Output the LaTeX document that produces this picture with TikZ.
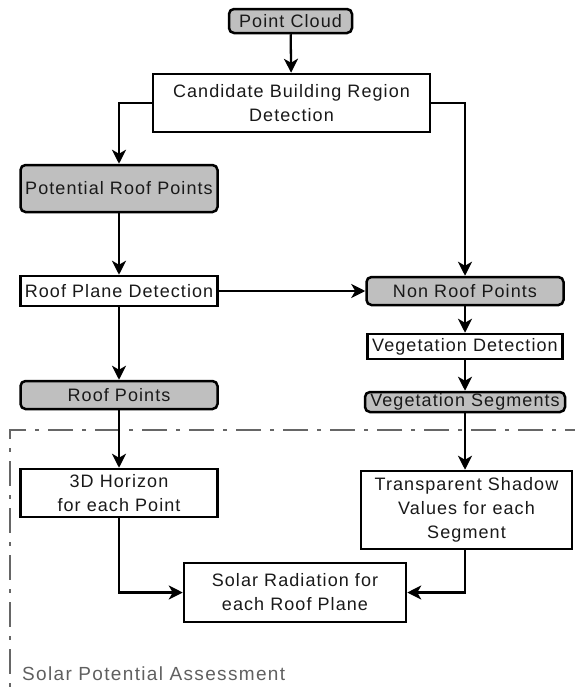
\documentclass[tikz,border=0pt]{standalone}
\usepackage{fontspec}
\setmainfont{Liberation Sans}[LetterSpace=6]
\usetikzlibrary{arrows.meta}

\begin{document}
\begin{tikzpicture}[x=1pt, y=-1pt, font=\fontsize{18}{24}\selectfont]

% --- Define Styles ---
\tikzset{
    datanode/.style={draw, line width=2.5pt, fill=gray!50, rounded corners=5pt, inner sep=0pt, align=center, text=black!90},
    procnode/.style={draw, line width=2.5pt, fill=white, inner sep=0pt, align=center, text=black!90},
    flow/.style={-{Stealth[length=14pt, width=14pt, inset=4pt]}, line width=2.3pt},
    frame/.style={dash pattern=on 25pt off 9pt on 4pt off 9pt, line width=2.2pt, gray!80!black}
}

\useasboundingbox (0,0) rectangle (574,696);

% ================= ASSESSMENT FRAME =================
\draw[frame] (590,430) -- (10,430) -- (10,710);
\node[anchor=base west, inner sep=0pt, text=gray!75!black, font=\fontsize{19}{24}\selectfont\addfontfeatures{LetterSpace=7}] (spa) at (22,680) {Solar Potential Assessment};

% ================= LEFT BRANCH (ROOFS) =================
\node[datanode, minimum width=123pt, minimum height=24pt] (cloud) at (290.5,21) {Point Cloud};
\node[procnode, minimum width=277pt, minimum height=58pt] (cand) at (291.5,103) {Candidate Building Region\\Detection};
\node[datanode, minimum width=197pt, minimum height=47pt] (potroof) at (119,188.5) {Potential Roof Points};
\node[procnode, minimum width=197pt, minimum height=30pt] (roofplane) at (119,291) {Roof Plane Detection};
\node[datanode, minimum width=197pt, minimum height=28pt] (roofpts) at (119,395) {Roof Points};
\node[procnode, minimum width=197pt, minimum height=48pt] (horizon) at (119,493) {3D Horizon\\for each Point};

% ================= RIGHT BRANCH (VEGETATION) =================
\node[datanode, minimum width=197pt, minimum height=28pt] (nonroof) at (465,291) {Non Roof Points};
\node[procnode, minimum width=195pt, minimum height=25pt] (vegdet) at (465,346.5) {Vegetation Detection};
\node[datanode, minimum width=200pt, minimum height=20pt] (vegseg) at (465,402) {Vegetation Segments};
\node[procnode, minimum width=211pt, minimum height=78pt] (shadow) at (466.5,510) {Transparent Shadow\\Values for each\\Segment};

% ================= RESULT =================
\node[procnode, minimum width=222pt, minimum height=59pt] (solar) at (295,592.5) {Solar Radiation for\\each Roof Plane};

% --- Connectors ---
\draw[flow] (cloud) -- (cand);
\draw[flow] (cand.west) -| (potroof.north);
\draw[flow] (cand.east) -| (nonroof.north);
\draw[flow] (potroof) -- (roofplane);
\draw[flow] (roofplane) -- (nonroof);
\draw[flow] (roofplane) -- (roofpts);
\draw[flow] (nonroof) -- (vegdet);
\draw[flow] (vegdet) -- (vegseg);
\draw[flow] (roofpts) -- (horizon);
\draw[flow] (vegseg) -- (vegseg |- shadow.north);
\draw[flow] (horizon.south) |- (solar.west);
\draw[flow] (vegseg |- shadow.south) |- (solar.east);

\end{tikzpicture}
\end{document}
